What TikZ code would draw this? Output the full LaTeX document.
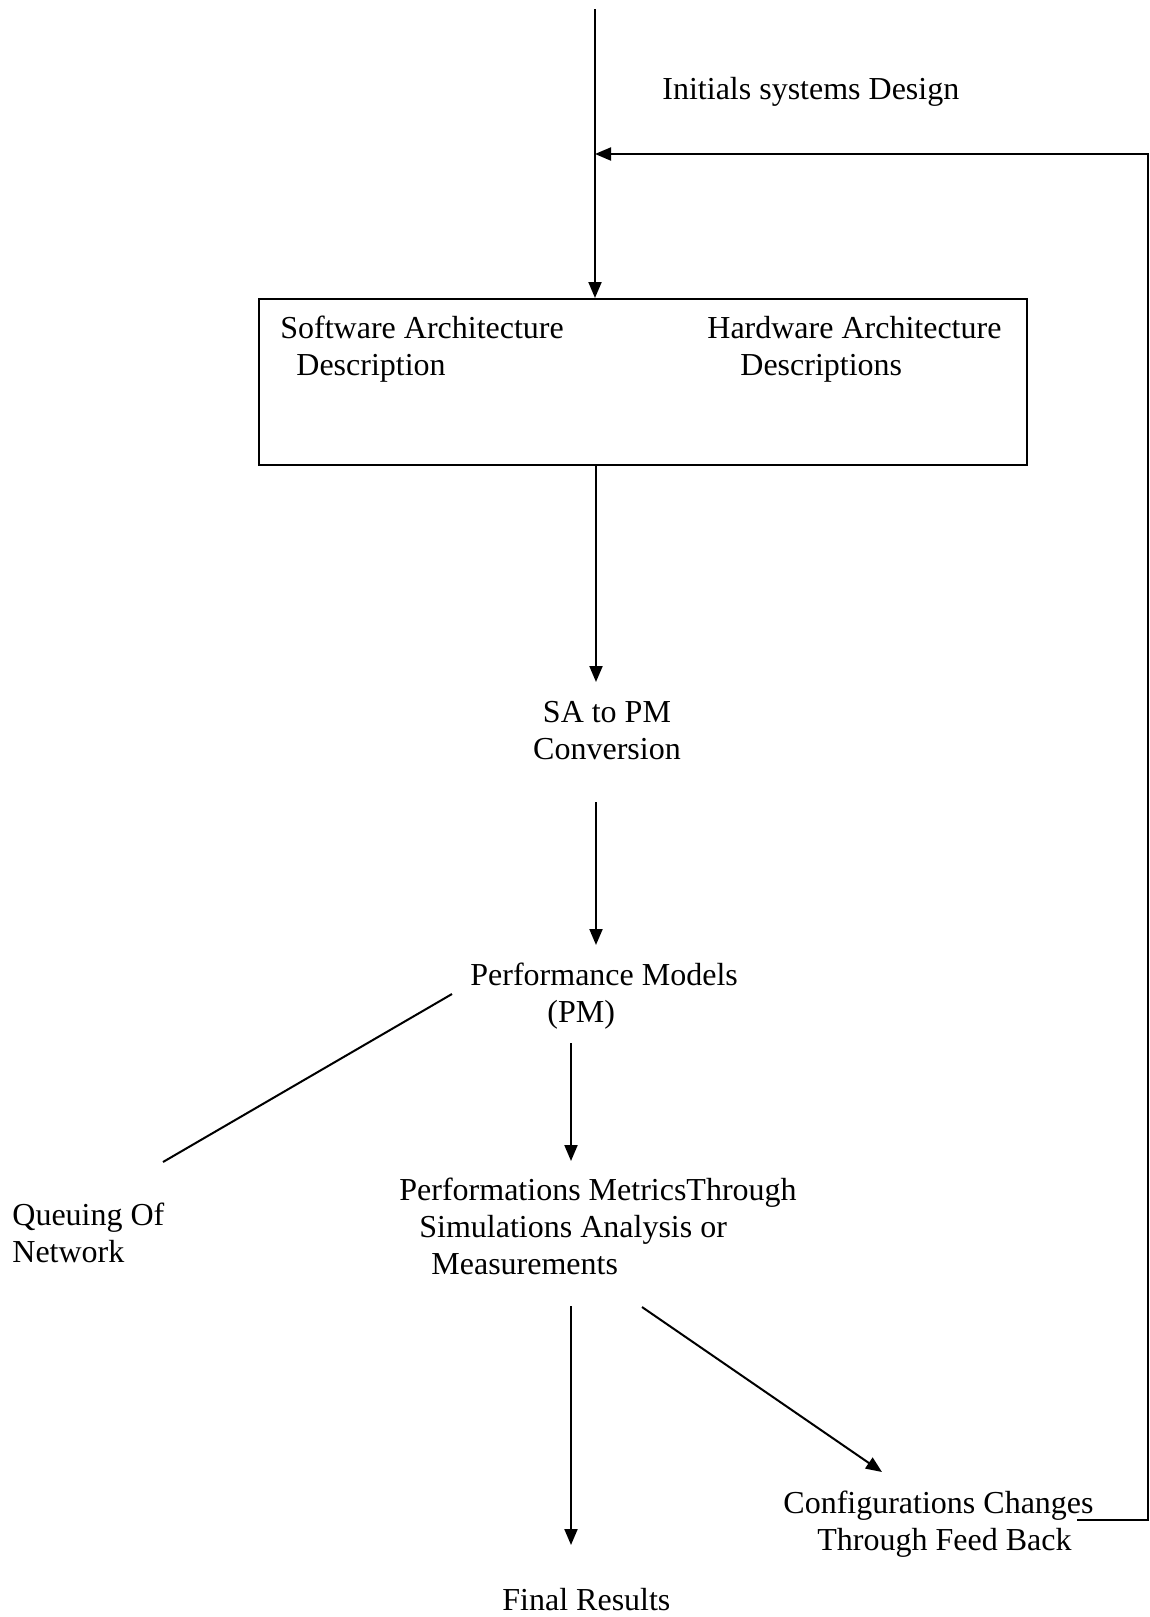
\documentclass[tikz,border=0pt]{standalone}
\usepackage{fontspec}
\setmainfont{Liberation Serif}
\usetikzlibrary{arrows.meta}
\newcommand{\twolines}[3][0pt]{\vtop{\hbox{#2}\hbox{\hspace*{#1}#3}}}
\newcommand{\threelines}[5]{\vtop{\hbox{#1}\hbox{\hspace*{#2}#3}\hbox{\hspace*{#4}#5}}}
\begin{document}
\begin{tikzpicture}[x=0.5pt,y=-0.5pt,
  lbl/.style={inner sep=0pt, anchor=base west, font=\fontsize{16}{18.5}\selectfont},
  conn/.style={line width=1pt},
  arr/.style={conn, -{Triangle[length=8pt,width=6.5pt]}},
  frame/.style={draw, line width=1pt, inner sep=0pt}]
\useasboundingbox (0,0) rectangle (1150,1617);

% architecture description box
\node[frame, minimum width=384pt, minimum height=83pt] (box) at (643,382) {};

% labels
\node[lbl] (design) at (662,99) {Initials systems Design};
\node[lbl] (sw) at (280,338) {\twolines[8pt]{Software Architecture}{Description}};
\node[lbl] (hw) at (707,338) {\twolines[16.5pt]{Hardware Architecture}{Descriptions}};
\node[lbl, anchor=base] (sapm) at (607,722) {\vtop{\halign{\hfil#\hfil\cr SA to PM\cr Conversion\cr}}};
\node[lbl] (pm) at (470,985) {\twolines[38.5pt]{Performance Models}{(PM)}};
\node[lbl] (perf) at (399,1200) {\threelines{Performations MetricsThrough}{10pt}{Simulations Analysis or}{16pt}{Measurements}};
\node[lbl] (queue) at (12,1225) {\twolines{Queuing Of}{Network}};
\node[lbl] (cfg) at (783,1513) {\twolines[17pt]{Configurations Changes}{Through Feed Back}};
\node[lbl] (final) at (502,1610) {Final Results};

% connector end points
\coordinate (in) at (595,9);
\coordinate (join) at (595,154);
\coordinate (fbk) at (1148,154);
\coordinate (cfgout) at (1077,1520);
\coordinate (sapmin) at (596,682);
\coordinate (sapmout) at (596,802);
\coordinate (pmin) at (596,945);
\coordinate (pmout) at (571,1043);
\coordinate (pmq) at (452,994);
\coordinate (qin) at (163,1162);
\coordinate (perfin) at (571,1161);
\coordinate (perfout) at (571,1306);
\coordinate (perfcfg) at (642,1307);
\coordinate (cfgin) at (882,1472);
\coordinate (finalin) at (571,1545);

% flow
\draw[arr] (in) -- (in |- box.north);
\draw[arr] (cfgout) -| (fbk) -- (join);
\draw[arr] (box.south -| sapmin) -- (sapmin);
\draw[arr] (sapmout) -- (pmin);
\draw[arr] (pmout) -- (perfin);
\draw[conn] (pmq) -- (qin);
\draw[arr] (perfout) -- (finalin);
\draw[arr] (perfcfg) -- (cfgin);
\end{tikzpicture}
\end{document}
